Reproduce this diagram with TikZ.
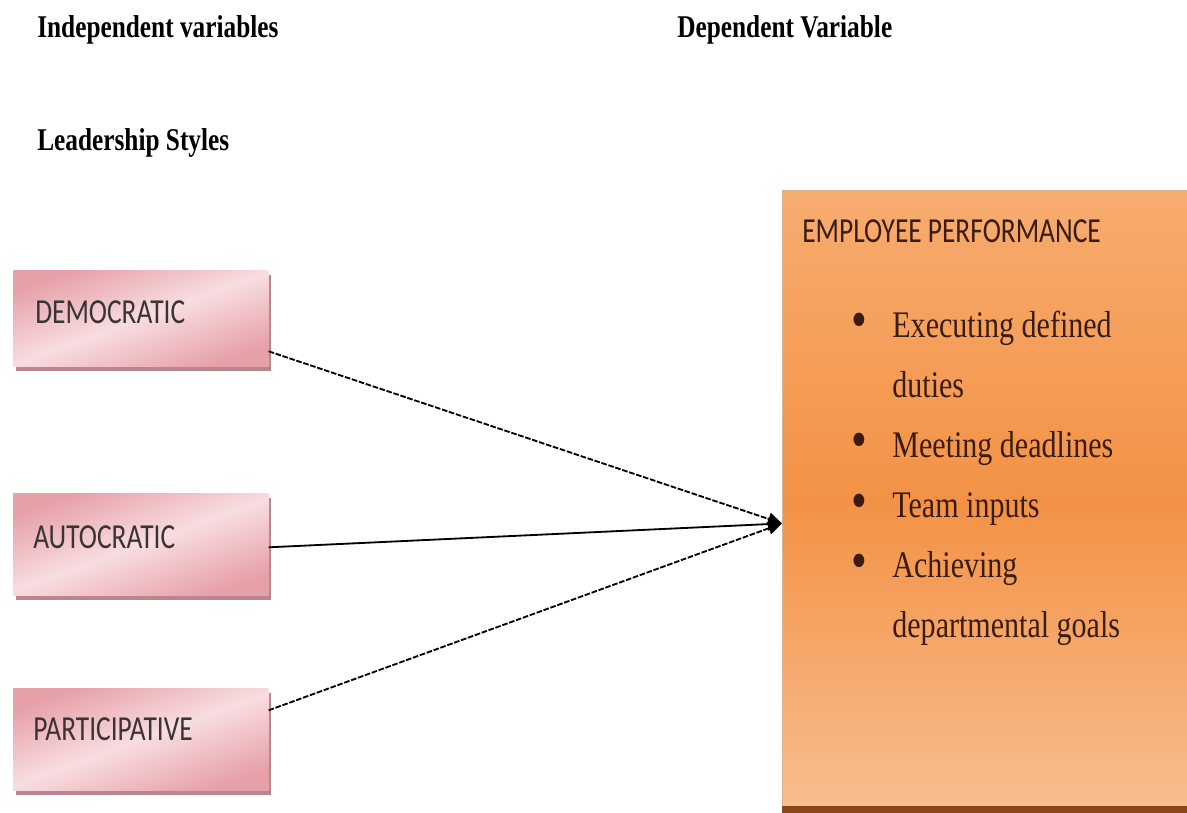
\documentclass[tikz,border=0pt]{standalone}
\usepackage{fontspec}
\usepackage{xcolor}
\usepackage{tikz}
\usetikzlibrary{positioning,arrows.meta,shadows,calc}
\setmainfont{Liberation Serif}
\newfontfamily\headfont{Liberation Serif}[FakeStretch=0.8]
\newfontfamily\boxfont{Carlito}[FakeStretch=0.78]
\newfontfamily\listfont{Liberation Serif}[FakeStretch=0.8]
\definecolor{roseEdge}{HTML}{E6A0A8}
\definecolor{roseLight}{HTML}{F8DDE0}
\definecolor{roseShadow}{HTML}{B8868C}
\definecolor{perfTop}{HTML}{F7AC70}
\definecolor{perfMid}{HTML}{F39245}
\definecolor{perfBottom}{HTML}{F9BE90}
\definecolor{perfBase}{HTML}{8A4816}
\definecolor{perfRim}{HTML}{D8B596}
\definecolor{boxInk}{HTML}{3A3436}
\definecolor{listInk}{HTML}{3A1C10}

\tikzset{
  heading/.style={anchor=base west, inner sep=0pt, font=\headfont\bfseries\fontsize{22.5pt}{27pt}\selectfont},
  stylebox/.style={anchor=north west, minimum width=6.375cm, inner sep=0pt,
    shading=axis, top color=roseEdge, bottom color=roseEdge, middle color=roseLight, shading angle=20,
    drop shadow={shadow xshift=0.07cm, shadow yshift=-0.12cm, fill=roseShadow, opacity=1}},
  boxlabel/.style={anchor=base west, inner sep=0pt, text=boxInk, font=\boxfont\fontsize{25pt}{30pt}\selectfont},
  link/.style={line width=1.3pt, -{Triangle[length=10pt,width=9pt]}},
  dashlink/.style={link, dash pattern=on 4pt off 1.2pt}
}
\newcommand{\goalbullet}{\raisebox{-0.05em}{\scalebox{1.5}{\textbullet}}}

\begin{document}
\begin{tikzpicture}[x=0.025cm,y=-0.025cm]
  \useasboundingbox (0,0) rectangle (1187,812);

  % column headings
  \node[heading] (indep) at (37,37) {Independent variables};
  \node[heading] (dep) at (677,37) {Dependent Variable};
  \node[heading] (lead) at (37,150) {Leadership Styles};

  % leadership styles
  \node[stylebox, minimum height=2.4cm] (demo) at (13,270) {};
  \node[stylebox, minimum height=2.55cm] (auto) at (13,493) {};
  \node[stylebox, minimum height=2.55cm] (part) at (13,688) {};
  \node[boxlabel] (demotxt) at (35,323) {DEMOCRATIC};
  \node[boxlabel] (autotxt) at (33,548) {AUTOCRATIC};
  \node[boxlabel] (parttxt) at (33,740) {PARTICIPATIVE};

  % employee performance
  \node[anchor=north west, minimum width=10.125cm, minimum height=15.55cm, inner sep=0pt,
        draw=perfRim, line width=0.6pt, shading=axis,
        top color=perfTop, bottom color=perfBottom, middle color=perfMid] (perf) at (782,190) {};
  \fill[perfBase] ([yshift=0.175cm]perf.south west) rectangle (perf.south east);
  \node[boxlabel, text=listInk] (perftxt) at (802,242) {EMPLOYEE PERFORMANCE};
  \node[anchor=base west, inner sep=0pt, text=listInk,
        font=\listfont\fontsize{26.7pt}{42.7pt}\selectfont] (goals) at (851,337)
   {\begin{tabular}[t]{@{}l@{\hspace{18pt}}l@{}}
      \goalbullet & Executing defined \\
       & duties \\
      \goalbullet & Meeting deadlines \\
      \goalbullet & Team inputs \\
      \goalbullet & Achieving \\
       & departmental goals
    \end{tabular}};

  % links
  \coordinate (hub) at ([yshift=-15.6pt]perf.west);
  \draw[dashlink] ([yshift=-0.825cm]demo.east) -- (hub);
  \draw[link] ([yshift=-0.075cm]auto.east) -- (hub);
  \draw[dashlink] ([yshift=0.725cm]part.east) -- (hub);
\end{tikzpicture}
\end{document}
